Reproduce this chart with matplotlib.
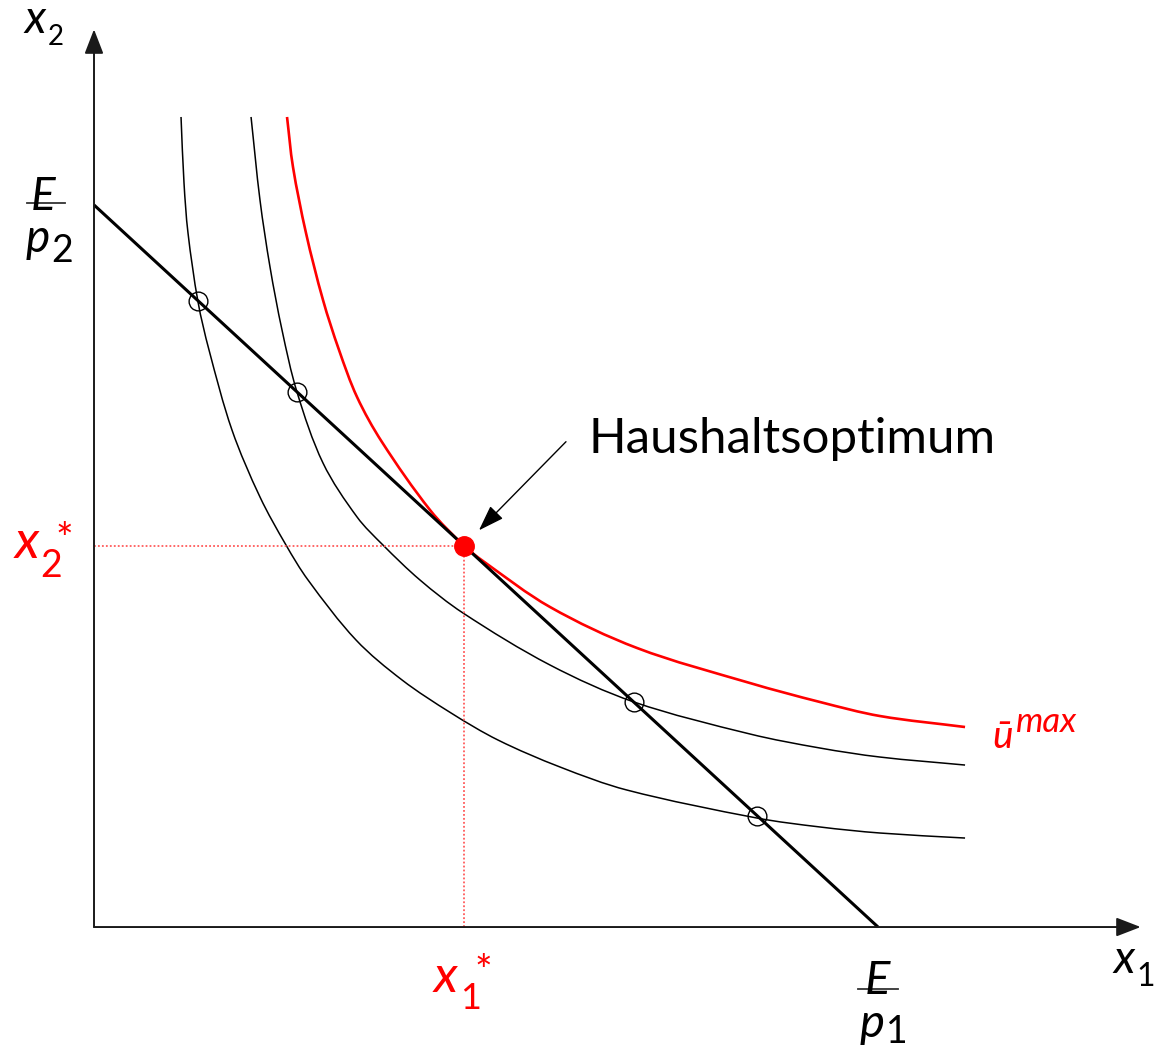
import matplotlib
matplotlib.use("Agg")
import numpy as np
import matplotlib.pyplot as plt
from matplotlib.path import Path
from matplotlib.patches import PathPatch

# ---- model values (goods x1, x2) ----
E_P1 = 10.0          # budget intercept on the x1 axis
E_P2 = 9.21          # budget intercept on the x2 axis
X_OPT = 4.72         # optimal x1*
Y_OPT = E_P2 * (1 - X_OPT / E_P1)   # optimal x2* on the budget line

# indifference curves
curve_low_x = [1.110, 1.148, 1.199, 1.327, 1.467, 1.760, 2.117, 2.449, 2.730, 3.342,
               3.929, 4.554, 5.153, 5.944, 6.798, 8.457, 9.260, 10.026, 11.110]
curve_low_y = [10.332, 9.490, 8.852, 7.972, 7.360, 6.339, 5.485, 4.872, 4.426, 3.661,
               3.151, 2.730, 2.385, 2.041, 1.747, 1.390, 1.276, 1.199, 1.135]

curve_mid_x = [2.003, 2.117, 2.245, 2.398, 2.589, 2.921, 3.355, 3.686, 4.158,
               4.707, 5.816, 6.888, 8.367, 9.260, 10.026, 11.110]
curve_mid_y = [10.332, 9.273, 8.418, 7.615, 6.824, 5.918, 5.230, 4.872, 4.426,
               4.005, 3.342, 2.870, 2.462, 2.283, 2.168, 2.066]

curve_max_x = [2.462, 2.538, 2.704, 2.921, 3.125, 3.355, 3.673, 4.286, X_OPT,
               4.962, 5.816, 6.926, 8.367, 9.260, 10.026, 11.110]
curve_max_y = [10.332, 9.694, 8.852, 7.997, 7.360, 6.760, 6.186, 5.319, Y_OPT,
               4.668, 4.082, 3.559, 3.112, 2.870, 2.691, 2.551]

# budget-line crossings of the lower curves
cross_x = [1.327, 2.589, 6.888, 8.457]
cross_y = [E_P2 * (1 - x / E_P1) for x in cross_x]

RED = "#ff0000"
FONT = "Lato"


def smooth_path(xs, ys):
    """Cubic Bezier path passing through every given point."""
    p = np.column_stack([xs, ys]).astype(float)
    n = len(p)
    tang = np.empty_like(p)
    tang[0] = p[1] - p[0]
    tang[-1] = p[-1] - p[-2]
    tang[1:-1] = p[2:] - p[:-2]
    tang /= np.linalg.norm(tang, axis=1)[:, None]
    verts = [p[0]]
    codes = [Path.MOVETO]
    for i in range(n - 1):
        L = np.linalg.norm(p[i + 1] - p[i]) / 3.0
        verts += [p[i] + tang[i] * L, p[i + 1] - tang[i + 1] * L, p[i + 1]]
        codes += [Path.CURVE4] * 3
    return Path(verts, codes)


fig = plt.figure(figsize=(11.54, 10.48), dpi=100)
ax = fig.add_axes([0, 0, 1, 1])
ax.set_xlim(-1.199, 13.520)
ax.set_ylim(-1.543, 11.824)
ax.axis("off")

# coordinate axes with arrow heads
axis_arrow = dict(arrowstyle="-|>,head_length=1.5,head_width=0.58",
                  mutation_scale=10, lw=1.4, color="#1a1a1a",
                  shrinkA=0, shrinkB=0)
ax.annotate("", xy=(13.35, 0), xytext=(0, 0), arrowprops=axis_arrow)
ax.annotate("", xy=(0, 11.45), xytext=(0, 0), arrowprops=axis_arrow)

# guide lines to the optimum
dot_style = dict(color="#ff5a5a", lw=1.3, ls=(0, (1, 1.2)))
ax.plot([0, X_OPT], [Y_OPT, Y_OPT], **dot_style)
ax.plot([X_OPT, X_OPT], [0, Y_OPT], **dot_style)

# indifference curves
for cx, cy, col, lw in [(curve_low_x, curve_low_y, "black", 1.1),
                        (curve_mid_x, curve_mid_y, "black", 1.1),
                        (curve_max_x, curve_max_y, RED, 1.9)]:
    ax.add_patch(PathPatch(smooth_path(cx, cy), fill=False, edgecolor=col,
                           lw=lw, capstyle="butt"))

# budget line
ax.plot([0, E_P1], [E_P2, 0], color="black", lw=2.2, solid_capstyle="butt")

# intersections and optimum
ax.plot(cross_x, cross_y, "o", ms=13.5, mfc="none", mec="black", mew=1.0)
ax.plot([X_OPT], [Y_OPT], "o", ms=14, color=RED)

# annotation
ax.annotate("", xy=(4.91, 5.06), xytext=(6.02, 6.19),
            arrowprops=dict(arrowstyle="-|>,head_length=1.6,head_width=0.55",
                            mutation_scale=10, lw=1.0, color="black",
                            shrinkA=0, shrinkB=0))
ax.text(6.301, 6.046, "Haushaltsoptimum", fontsize=35.5, family=FONT,
        ha="left", va="baseline")


def piece(x, y, s, size, color="black", style="italic", va="baseline", ha="left"):
    ax.text(x, y, s, fontsize=size, family=FONT, style=style, color=color,
            ha=ha, va=va)


# x2 axis name
piece(-0.890, 11.403, "x", 33)
piece(-0.585, 11.250, "2", 20, style="normal")

# E / p2
piece(-0.651, 9.145, "E", 33, ha="center")
ax.plot([-0.855, -0.370], [9.235, 9.235], color="#333333", lw=1.3)
piece(-0.867, 8.610, "p", 33)
piece(-0.548, 8.482, "2", 27, style="normal")

# x2*
piece(-1.008, 4.707, "x", 38, color=RED)
piece(-0.689, 4.464, "2", 27, color=RED, style="normal")
piece(-0.485, 5.160, "*", 30, color=RED, style="normal", va="top")

# x1*
piece(4.337, -0.829, "x", 37, color=RED)
piece(4.668, -1.046, "1", 26, color=RED, style="normal")
piece(4.850, -0.350, "*", 30, color=RED, style="normal", va="top")

# E / p1
piece(9.987, -0.855, "E", 34, ha="center")
ax.plot([9.745, 10.255], [-0.791, -0.791], color="#333333", lw=1.3)
piece(9.770, -1.405, "p", 34)
piece(10.102, -1.475, "1", 27, style="normal")

# x1 axis name
piece(13.000, -0.587, "x", 33)
piece(13.290, -0.753, "1", 23, style="normal")

# u-bar max
piece(11.454, 2.283, "\u016b", 28, color=RED)
piece(11.760, 2.487, "max", 25, color=RED)

fig.savefig("out.png", dpi=100)
